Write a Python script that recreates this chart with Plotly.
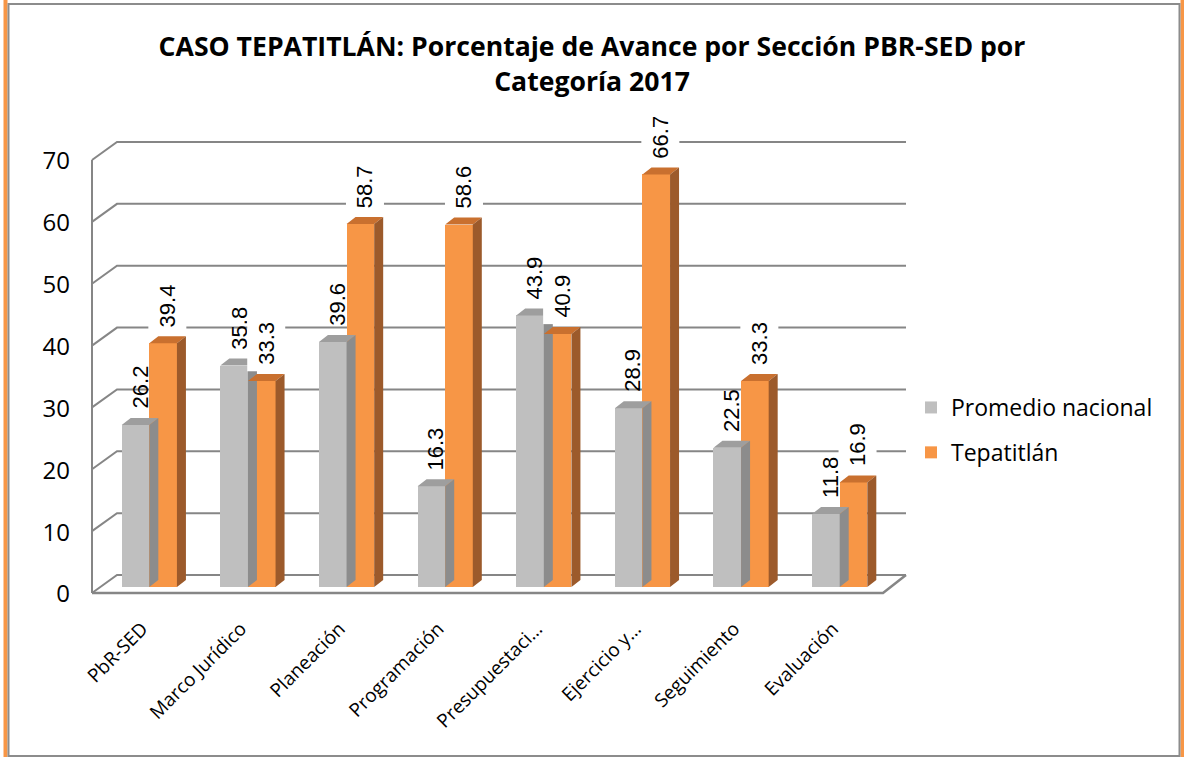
import plotly.graph_objects as go

categories = ["PbR-SED", "Marco Jurídico", "Planeación", "Programación",
              "Presupuestaci…", "Ejercicio y…", "Seguimiento", "Evaluación"]
promedio_nacional = [26.2, 35.8, 39.6, 16.3, 43.9, 28.9, 22.5, 11.8]
tepatitlan = [39.4, 33.3, 58.7, 58.6, 40.9, 66.7, 33.3, 16.9]
y_ticks = [0, 10, 20, 30, 40, 50, 60, 70]
title_text = "CASO TEPATITLÁN: Porcentaje de Avance por Sección PBR-SED por<br>Categoría 2017"

# ---- layout geometry (pixels) ----
FW, FH = 1184, 757
L, R, T, B = 100, 889, 154, 587
W = R - L
H = B - T
YMAX = 70
NCAT = len(categories)
XR = (-0.5, NCAT - 0.5)
ux = W / (XR[1] - XR[0])   # px per x unit
uy = H / YMAX              # px per y unit
DX, DY = 9 / ux, 7 / uy    # bar depth in data units
BW = 0.28

GRAY, GRAY_TOP, GRAY_SIDE = "#BFBFBF", "#9E9E9E", "#8C8C8C"
ORNG, ORNG_TOP, ORNG_SIDE = "#F79646", "#C9702F", "#9C5A2B"
GRID = "#868686"

def xp(px):
    return (px - L) / W

def yp(py):
    return (B - py) / H

fig = go.Figure()

def add_series(name, vals, offset, front, top, side):
    xs = [i + offset for i in range(NCAT)]
    fig.add_trace(go.Bar(x=xs, y=vals, width=BW, offset=0, name=name,
                         marker=dict(color=front, line=dict(width=0)),
                         legendgroup=name))
    tx, ty = [], []
    for x0, v in zip(xs, vals):
        x1 = x0 + BW
        tx += [x0, x1, x1 + DX, x0 + DX, x0, None]
        ty += [v, v, v + DY, v + DY, v, None]
    fig.add_trace(go.Scatter(x=tx, y=ty, fill="toself", fillcolor=top, mode="lines",
                             line=dict(width=0, color=top), hoverinfo="skip",
                             showlegend=False, legendgroup=name))
    sx, sy = [], []
    for x0, v in zip(xs, vals):
        x1 = x0 + BW
        sx += [x1, x1 + DX, x1 + DX, x1, x1, None]
        sy += [0, DY, v + DY, v, 0, None]
    fig.add_trace(go.Scatter(x=sx, y=sy, fill="toself", fillcolor=side, mode="lines",
                             line=dict(width=0, color=side), hoverinfo="skip",
                             showlegend=False, legendgroup=name))
    return xs

xs_g = add_series("Promedio nacional", promedio_nacional, -BW, GRAY, GRAY_TOP, GRAY_SIDE)
xs_o = add_series("Tepatitlán", tepatitlan, 0.0, ORNG, ORNG_TOP, ORNG_SIDE)

annotations = []
for xs, vals, bg in ((xs_g, promedio_nacional, "rgba(0,0,0,0)"), (xs_o, tepatitlan, "white")):
    for x0, v in zip(xs, vals):
        annotations.append(dict(
            x=x0 + BW / 2 + DX / 2, y=v + DY, xref="x", yref="y",
            text=f"{v:.1f}", textangle=-90, showarrow=False,
            xanchor="center", yanchor="bottom", yshift=2,
            bgcolor=bg, borderpad=6,
            font=dict(family="Liberation Sans, Arial", size=22, color="black")))

# ---- 3D walls / gridlines as paper shapes ----
shapes = []
fl_x = -8 / W
bk_x = 17 / W
fr_x = 1 - 6 / W
br_x = 1 + 17 / W
fdy = -6 / H
bdy = 12 / H
for v in y_ticks:
    yv = v / YMAX
    shapes.append(dict(type="path", xref="paper", yref="paper", layer="below",
                       path=f"M{fl_x},{yv + fdy} L{bk_x},{yv + bdy} L{br_x},{yv + bdy}",
                       line=dict(color=GRID, width=2)))
shapes.append(dict(type="path", xref="paper", yref="paper", layer="below",
                   path=f"M{fl_x},{fdy} L{fr_x},{fdy} L{br_x},{bdy}",
                   line=dict(color=GRID, width=2.5)))
shapes.append(dict(type="path", xref="paper", yref="paper", layer="below",
                   path=f"M{fl_x},{fdy} L{fl_x},{1 + fdy}",
                   line=dict(color=GRID, width=2)))

# ---- outer frame ----
shapes.append(dict(type="rect", xref="paper", yref="paper", layer="below",
                   x0=xp(3.5), x1=xp(7.5), y0=yp(FH), y1=yp(0),
                   fillcolor="#F79646", line=dict(width=0)))
shapes.append(dict(type="rect", xref="paper", yref="paper", layer="below",
                   x0=xp(1180.5), x1=xp(1184), y0=yp(FH), y1=yp(0),
                   fillcolor="#F79646", line=dict(width=0)))
shapes.append(dict(type="path", xref="paper", yref="paper", layer="below",
                   path=(f"M{xp(8.5)},{yp(FH)} L{xp(8.5)},{yp(4)} L{xp(1179.5)},{yp(4)} "
                         f"L{xp(1179.5)},{yp(756)} L{xp(8.5)},{yp(756)} Z"),
                   line=dict(color="#8C8C8C", width=2)))

fig.update_layout(
    width=FW, height=FH,
    margin=dict(l=L, r=FW - R, t=T, b=FH - B, pad=0),
    paper_bgcolor="white", plot_bgcolor="rgba(0,0,0,0)",
    barmode="overlay", bargap=0,
    title=dict(text=title_text, x=0.5, xref="container", xanchor="center",
               y=1 - 56 / FH, yref="container", yanchor="middle",
               font=dict(family="Open Sans", size=26.6, color="black", weight="bold")),
    xaxis=dict(range=list(XR), tickmode="array", tickvals=list(range(NCAT)),
               ticktext=categories, tickangle=-45, showgrid=False, zeroline=False,
               showline=False, ticks="", ticklabelstandoff=26, ticklabelshift=-7,
               tickfont=dict(family="Open Sans", size=19, color="black"), fixedrange=True),
    yaxis=dict(range=[0, YMAX], tickmode="array", tickvals=y_ticks, showgrid=False,
               zeroline=False, showline=False, ticks="", ticklabelstandoff=29,
               ticklabelshift=7,
               tickfont=dict(family="Open Sans", size=24, color="black"), fixedrange=True),
    legend=dict(x=xp(911), y=yp(430), xanchor="left", yanchor="middle",
                font=dict(family="Open Sans", size=23, color="black"),
                traceorder="grouped", tracegroupgap=12, bgcolor="rgba(0,0,0,0)"),
    annotations=annotations,
    shapes=shapes,
    showlegend=True,
)

fig.write_html("out.html", config={"displayModeBar": False},
               post_script="document.body.style.margin='0px';")
